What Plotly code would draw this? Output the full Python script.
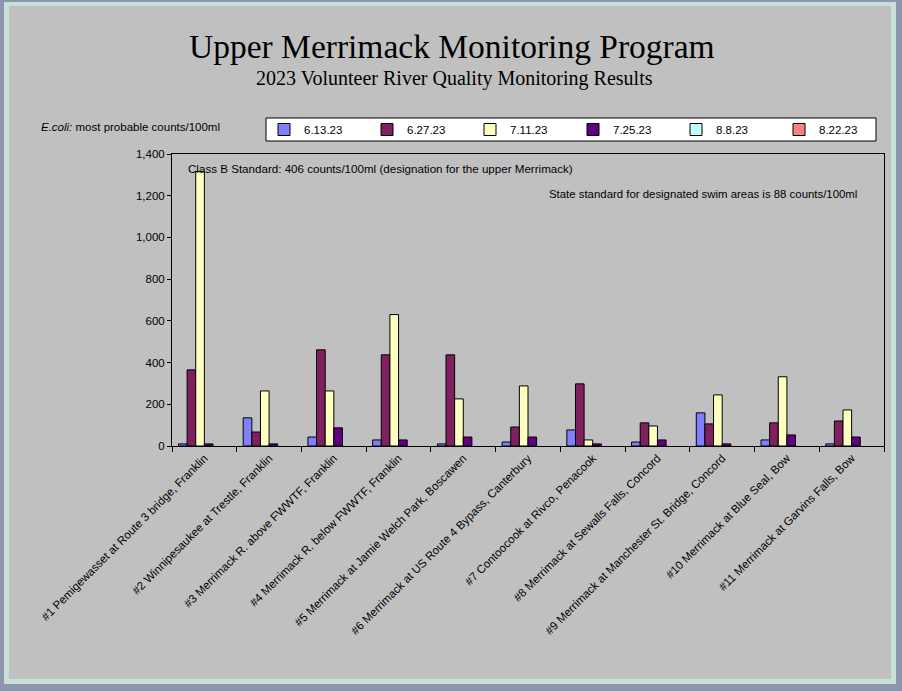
import plotly.graph_objects as go

sites = [
    "#1 Pemigewasset at Route 3 bridge, Franklin",
    "#2 Winnipesaukee at Trestle, Franklin",
    "#3 Merrimack R. above FWWTF, Franklin",
    "#4 Merrimack R. below FWWTF, Franklin",
    "#5 Merrimack at Jamie Welch Park, Boscawen",
    "#6 Merrimack at US Route 4 Bypass, Canterbury",
    "#7 Contoocook at Rivco, Penacook",
    "#8 Merrimack at Sewalls Falls, Concord",
    "#9 Merrimack at Manchester St. Bridge, Concord",
    "#10 Merrimack at Blue Seal, Bow",
    "#11 Merrimack at Garvins Falls, Bow",
]
dates = ["6.13.23", "6.27.23", "7.11.23", "7.25.23", "8.8.23", "8.22.23"]
v_0613 = [10, 135, 43, 29, 10, 19, 77, 19, 159, 29, 10]
v_0627 = [365, 67, 461, 437, 437, 91, 298, 111, 106, 111, 120]
v_0711 = [1316, 264, 264, 630, 226, 288, 29, 96, 245, 332, 173]
v_0725 = [10, 10, 87, 29, 43, 43, 10, 29, 10, 53, 43]
v_0808 = [None] * 11
v_0822 = [None] * 11
series = [v_0613, v_0627, v_0711, v_0725, v_0808, v_0822]
colors = ["#8080ff", "#802060", "#ffffc0", "#600080", "#c0ffff", "#ff8080"]
y_ticks = [0, 200, 400, 600, 800, 1000, 1200, 1400]

W, H = 902, 691
L, R, T, B = 172, 884, 154, 446
pw, ph = R - L, B - T


def px(x):
    return (x - L) / pw


def py(y):
    return (B - y) / ph


fig = go.Figure()
for name, vals, col in zip(dates, series, colors):
    fig.add_trace(go.Bar(
        x=sites, y=vals, name=name,
        marker=dict(color=col, line=dict(color="black", width=1)),
    ))

font_sans = "Liberation Sans, Arial, sans-serif"

shapes = [
    dict(type="rect", xref="paper", yref="paper", x0=px(4), x1=px(896), y0=py(684), y1=py(2),
         fillcolor="#c8e0d8", line=dict(width=0), layer="below"),
    dict(type="rect", xref="paper", yref="paper", x0=px(9), x1=px(891), y0=py(679), y1=py(6),
         fillcolor="#c0c0c0", line=dict(width=0), layer="below"),
    dict(type="rect", xref="paper", yref="paper", x0=px(266), x1=px(876), y0=py(141), y1=py(118),
         fillcolor="white", line=dict(color="black", width=1), layer="below"),
]

annotations = [
    dict(text="Upper Merrimack Monitoring Program", x=px(452), y=py(46), xref="paper", yref="paper",
         showarrow=False, xanchor="center", yanchor="middle",
         font=dict(family="Liberation Serif, serif", size=33.5, color="black")),
    dict(text="2023 Volunteer River Quality Monitoring Results", x=px(454), y=py(79), xref="paper", yref="paper",
         showarrow=False, xanchor="center", yanchor="middle",
         font=dict(family="Liberation Serif, serif", size=20, color="black")),
    dict(text="<i>E.coli:</i> most probable counts/100ml", x=px(39), y=py(127), xref="paper", yref="paper",
         showarrow=False, xanchor="left", yanchor="middle",
         font=dict(family=font_sans, size=11.5, color="black")),
    dict(text="Class B Standard: 406 counts/100ml (designation for the upper Merrimack)", x=px(186), y=py(168),
         xref="paper", yref="paper", showarrow=False, xanchor="left", yanchor="middle",
         font=dict(family=font_sans, size=11.6, color="black")),
    dict(text="State standard for designated swim areas is 88 counts/100ml", x=px(547), y=py(194),
         xref="paper", yref="paper", showarrow=False, xanchor="left", yanchor="middle",
         font=dict(family=font_sans, size=11.4, color="black")),
]

fig.update_layout(
    width=W, height=H,
    margin=dict(l=L, r=W - R, t=T, b=H - B, autoexpand=False),
    paper_bgcolor="#8e96ae",
    plot_bgcolor="white",
    barmode="group", bargap=0.2, bargroupgap=0,
    shapes=shapes, annotations=annotations,
    showlegend=True,
    legend=dict(orientation="h", x=px(264), y=py(129.5), xanchor="left", yanchor="middle",
                bgcolor="rgba(0,0,0,0)", borderwidth=0, itemwidth=30,
                entrywidth=58, entrywidthmode="pixels", traceorder="normal",
                font=dict(family=font_sans, size=11.5, color="black"), itemclick=False),
    font=dict(family=font_sans, size=11.5, color="black"),
)
fig.update_xaxes(
    showline=True, linecolor="black", linewidth=1, mirror=True,
    ticks="outside", ticklen=5, tickcolor="black", tickson="boundaries",
    tickangle=-45, showgrid=False, tickfont=dict(family=font_sans, size=11.5, color="black"),
)
fig.update_yaxes(
    range=[0, 1400], tickvals=y_ticks, tickformat=",d",
    showline=True, linecolor="black", linewidth=1, mirror=True,
    ticks="outside", ticklen=4, tickcolor="black", showgrid=False, zeroline=False,
    tickfont=dict(family=font_sans, size=11.5, color="black"),
)

fig.write_html("out.html")
